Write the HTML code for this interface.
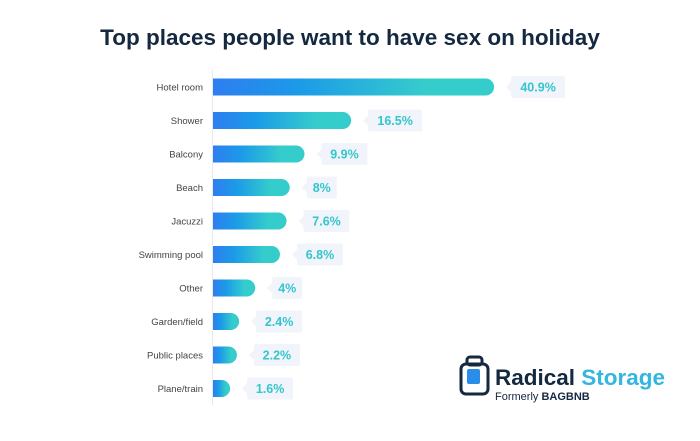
<!DOCTYPE html>
<html><head><meta charset="utf-8"><style>
body{margin:0;width:700px;height:436px;background:#fff;font-family:"Liberation Sans",sans-serif;overflow:hidden}
</style></head><body>
<svg width="700" height="436">
<defs>
<linearGradient id="g" x1="0" x2="1" y1="0" y2="0"><stop offset="0" stop-color="#2f7ef0"/><stop offset="0.3" stop-color="#1b9ae8"/><stop offset="0.75" stop-color="#35cccc"/><stop offset="1" stop-color="#35cccc"/></linearGradient>
</defs>
<text x="350" y="45" text-anchor="middle" font-size="22.5" font-weight="bold" fill="#14283f">Top places people want to have sex on holiday</text>
<line x1="212.5" y1="70" x2="212.5" y2="405" stroke="#e6eaf0"/>
<g id="bars"></g>
<g>
<rect x="461" y="364" width="27" height="30" rx="5" fill="none" stroke="#14283f" stroke-width="3"/>
<rect x="467" y="357" width="15" height="8" rx="3" fill="none" stroke="#14283f" stroke-width="3"/>
<rect x="467" y="369" width="13" height="15" rx="2" fill="#2a8de8"/>
<text x="495" y="385" font-size="22.5" font-weight="bold" fill="#14283f">Radical <tspan fill="#33b6e0">Storage</tspan></text>
<text x="495" y="400" font-size="11" fill="#14283f">Formerly <tspan font-weight="bold">BAGBNB</tspan></text>
</g>
</svg>
<script>
const categories=["Hotel room","Shower","Balcony","Beach","Jacuzzi","Swimming pool","Other","Garden/field","Public places","Plane/train"];
const values=[40.9,16.5,9.9,8,7.6,6.8,4,2.4,2.2,1.6];
const labels=["40.9%","16.5%","9.9%","8%","7.6%","6.8%","4%","2.4%","2.2%","1.6%"];
const x0=213;
function xw(v){return Math.max(12,17.9*Math.pow(v,0.75)-8.4);}
function yc(i){return 87+i*33.5;}
const ns="http://www.w3.org/2000/svg",g=document.getElementById('bars');
categories.forEach((c,i)=>{
 const y=yc(i),w=xw(values[i]);
 const t=document.createElementNS(ns,'text');
 
 
 t.setAttribute('x',203);t.setAttribute('y',y+3.5);t.setAttribute('text-anchor','end');t.setAttribute('font-size','9.5');t.setAttribute('fill','#444');t.textContent=c;g.appendChild(t);
 const r=document.createElementNS(ns,'path');
 
 
 const e=x0+w;
 r.setAttribute('d',`M${x0},${y-8.5} L${e-8.5},${y-8.5} A8.5,8.5 0 0 1 ${e-8.5},${y+8.5} L${x0},${y+8.5} Z`);
 r.setAttribute('fill','url(#g)');g.appendChild(r);
 const bx=x0+w+17,bw=labels[i].length*8+14;
 const p=document.createElementNS(ns,'path');
 
 
 p.setAttribute('d',`M${bx-5},${y} L${bx},${y-5} L${bx},${y-9} Q${bx},${y-11} ${bx+2},${y-11} L${bx+bw-2},${y-11} Q${bx+bw},${y-11} ${bx+bw},${y-9} L${bx+bw},${y+9} Q${bx+bw},${y+11} ${bx+bw-2},${y+11} L${bx+2},${y+11} Q${bx},${y+11} ${bx},${y+9} L${bx},${y+5} Z`);
 p.setAttribute('fill','#f1f4fa');g.appendChild(p);
 const v=document.createElementNS(ns,'text');
 
 
 v.setAttribute('x',bx+bw/2);v.setAttribute('y',y+4.5);v.setAttribute('text-anchor','middle');v.setAttribute('font-size','12.5');v.setAttribute('font-weight','bold');v.setAttribute('fill','#33c6cc');v.textContent=labels[i];g.appendChild(v);
});
</script>
</body></html>
